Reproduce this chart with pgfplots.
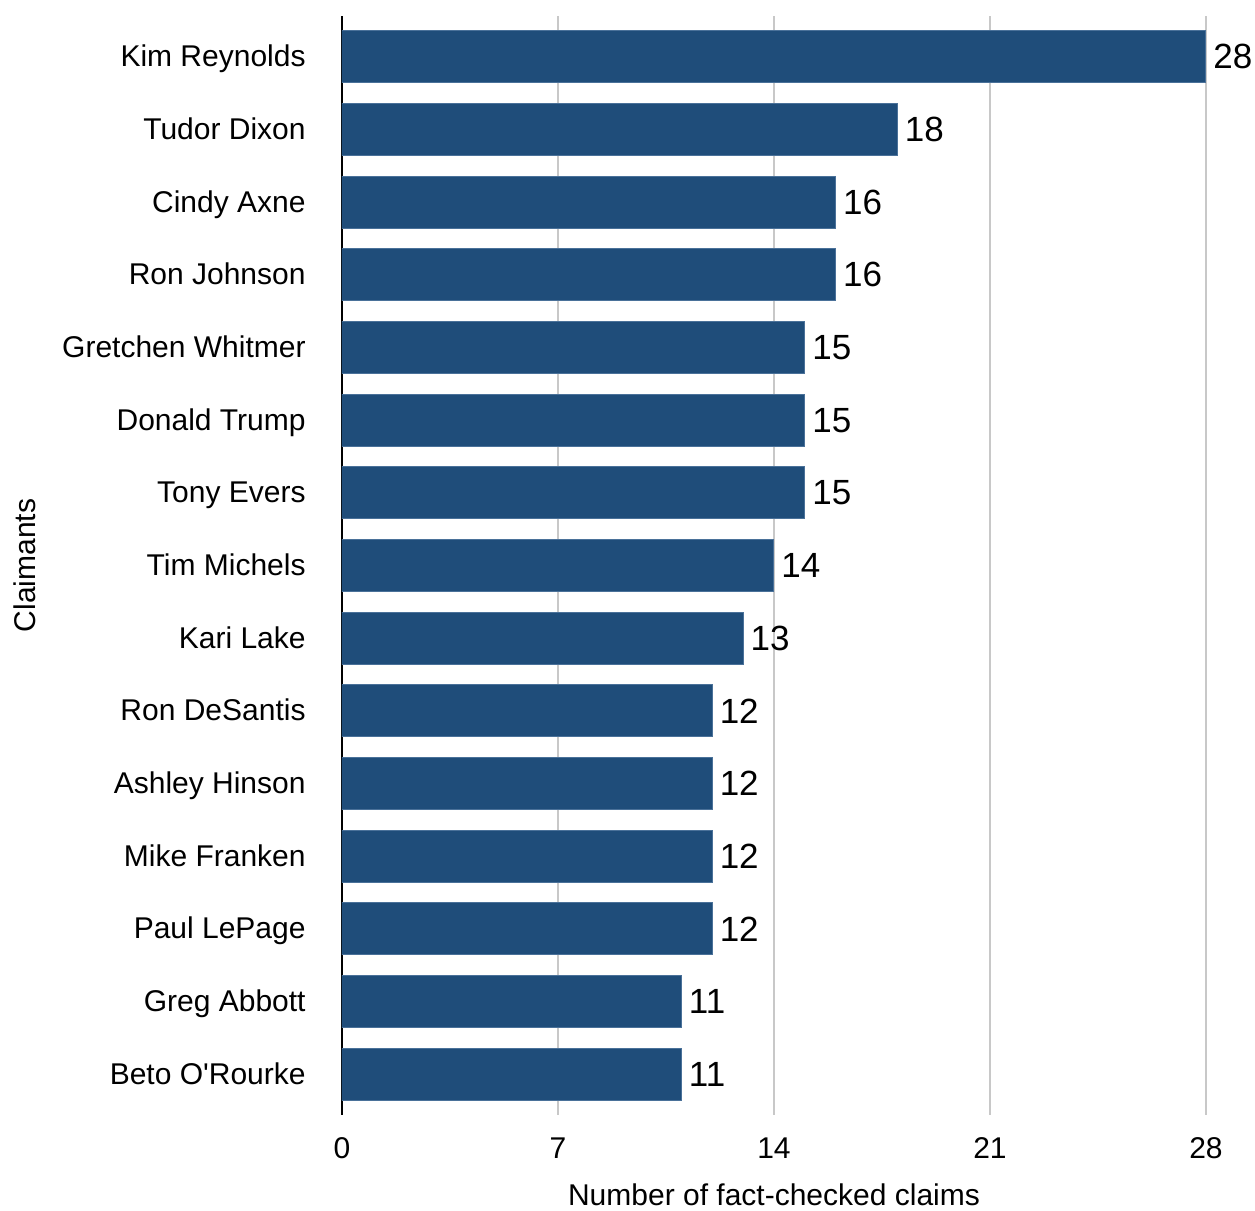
\documentclass[border=0pt]{standalone}
\usepackage{pgfplots}
\pgfplotsset{compat=1.18}
\usepackage{fontspec}
\setmainfont{Liberation Sans}[Ligatures=TeXOff]
\definecolor{barblue}{HTML}{1F4D7A}
\definecolor{baredge}{HTML}{4A7199}
\definecolor{gridgray}{HTML}{C8C8C8}
\begin{document}
\begin{tikzpicture}
\begin{axis}[
  at={(0,0)}, anchor=south west,
  scale only axis,
  width=432pt, height=549.5pt,
  xbar, bar width=26pt,
  xmin=0, xmax=28,
  ymin=-0.56, ymax=14.56,
  y dir=reverse,
  axis x line*=bottom, axis y line*=left,
  x axis line style={draw=none},
  y axis line style={draw=black, line width=1.2pt},
  xtick={0,7,14,21,28},
  ytick={0,...,14},
  yticklabels={Kim Reynolds,Tudor Dixon,Cindy Axne,Ron Johnson,Gretchen Whitmer,Donald Trump,Tony Evers,Tim Michels,Kari Lake,Ron DeSantis,Ashley Hinson,Mike Franken,Paul LePage,Greg Abbott,Beto O'Rourke},
  major tick length=0pt,
  xmajorgrids, grid style={gridgray, line width=0.6pt},
  /pgf/number format/assume math mode=true,
  tick label style={font=\fontsize{15}{17}\selectfont},
  xticklabel style={inner sep=0pt, anchor=north, yshift=-11pt},
  yticklabel style={inner sep=0pt, anchor=base east, xshift=-18pt, yshift=-5pt},
  xlabel={Number of fact-checked claims},
  ylabel={Claimants},
  xlabel style={font=\fontsize{15}{17}\selectfont, at={(axis description cs:0.5,-0.0725)}, anchor=center, inner sep=0pt},
  ylabel style={font=\fontsize{15}{17}\selectfont, at={(axis description cs:-0.367,0.5)}, anchor=center, rotate=0, inner sep=0pt},
  nodes near coords,
  nodes near coords style={font=\fontsize{17.5}{19}\selectfont, anchor=west, inner sep=0pt, xshift=3.5pt, black},
  point meta=x,
]
\addplot[fill=barblue, draw=baredge, line width=0.5pt] coordinates {
(28,0) (18,1) (16,2) (16,3) (15,4) (15,5) (15,6) (14,7) (13,8) (12,9) (12,10) (12,11) (12,12) (11,13) (11,14)
};
\end{axis}
\pgfresetboundingbox
\useasboundingbox (-171pt,-48pt) rectangle (456.5pt,557.5pt);
\end{tikzpicture}
\end{document}
